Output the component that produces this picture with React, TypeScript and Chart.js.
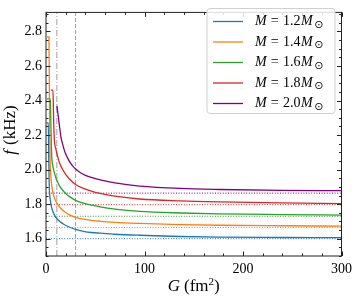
import React, { useEffect, useRef } from 'react';
import { Chart, registerables } from 'chart.js';
Chart.register(...registerables);

const massLabels = ['1.2', '1.4', '1.6', '1.8', '2.0'];
const colors = ['#1f77b4', '#ff7f0e', '#2ca02c', '#d62728', '#800080'];

const gM12 = [0.5, 2.3, 2.8, 3.3, 4, 5, 6, 7, 8.5, 10, 12, 15, 18, 22, 26, 30, 38, 46, 55, 70, 95, 136, 176, 240, 300];
const fM12 = [2.27, 2.27, 2.06, 1.9, 1.84, 1.8, 1.775, 1.757, 1.738, 1.724, 1.71, 1.696, 1.684, 1.672, 1.662, 1.654, 1.643, 1.636, 1.632, 1.626, 1.62, 1.613, 1.609, 1.607, 1.606];

const gM14 = [1, 3, 3.5, 4, 5, 6, 7, 8.5, 10, 12.5, 15, 18, 22, 26, 30, 38, 46, 55, 70, 95, 136, 176, 240, 300];
const fM14 = [2.768, 2.768, 2.4, 2.1, 1.96, 1.9, 1.866, 1.838, 1.817, 1.793, 1.776, 1.76, 1.743, 1.732, 1.724, 1.713, 1.706, 1.701, 1.695, 1.689, 1.682, 1.678, 1.675, 1.673];

const gM16 = [1, 4.4, 5, 5.7, 7, 8.4, 10, 11.8, 14, 16.8, 20, 23.6, 30, 38, 46, 55, 70, 95, 136, 176, 240, 300];
const fM16 = [2.41, 2.41, 2.25, 2.09, 2.02, 1.984, 1.953, 1.928, 1.903, 1.882, 1.862, 1.845, 1.822, 1.806, 1.795, 1.784, 1.771, 1.758, 1.749, 1.744, 1.74, 1.737];

const gM18 = [5, 7.1, 7.7, 8.4, 10, 11.8, 14, 16.8, 20, 23.6, 30, 38, 46, 55, 70, 95, 136, 176, 240, 300];
const fM18 = [2.46, 2.46, 2.3, 2.18, 2.12, 2.077, 2.035, 2.002, 1.972, 1.947, 1.914, 1.891, 1.876, 1.862, 1.846, 1.83, 1.819, 1.813, 1.807, 1.803];

const gM20 = [11, 12, 13.5, 15.2, 17, 18.5, 20, 23.6, 27, 30.4, 35, 40, 46, 55, 70, 95, 136, 176, 240, 300];
const fM20 = [2.37, 2.33, 2.26, 2.188, 2.145, 2.114, 2.09, 2.049, 2.022, 2.002, 1.982, 1.967, 1.955, 1.94, 1.923, 1.905, 1.891, 1.885, 1.88, 1.878];

const gSeries = [gM12, gM14, gM16, gM18, gM20];
const fSeries = [fM12, fM14, fM16, fM18, fM20];
const asymptotes = [1.6, 1.665, 1.73, 1.797, 1.864];

const dashDotG = 11;
const dashG = 30;
const xMin = 0, xMax = 300, yMin = 1.5, yMax = 2.91;
const xTicks = [0, 100, 200, 300];
const yTicks = [1.6, 1.8, 2.0, 2.2, 2.4, 2.6, 2.8];
const xMinorStep = 20;
const yMinorStep = 0.05;

const SERIF = '"Liberation Serif", "DejaVu Serif", serif';

function drawParts(ctx: CanvasRenderingContext2D, parts: { t: string; f: string; dy?: number; gap?: number }[], x: number, y: number) {
  let cx = x;
  for (const p of parts) {
    ctx.font = p.f;
    ctx.fillText(p.t, cx, y + (p.dy || 0));
    cx += ctx.measureText(p.t).width + (p.gap || 0);
  }
  return cx - x;
}
function partsWidth(ctx: CanvasRenderingContext2D, parts: { t: string; f: string; gap?: number }[]) {
  let w = 0;
  for (const p of parts) {
    ctx.font = p.f;
    w += ctx.measureText(p.t).width + (p.gap || 0);
  }
  return w;
}

const decorPlugin = {
  id: 'decor',
  afterDraw(chart: any) {
    const ctx: CanvasRenderingContext2D = chart.ctx;
    const { left, right, top, bottom } = chart.chartArea;
    const xs = chart.scales.x;
    const ys = chart.scales.y;
    ctx.save();
    ctx.strokeStyle = '#222';
    ctx.lineWidth = 1;
    ctx.strokeRect(left, top, right - left, bottom - top);
    ctx.beginPath();
    const maj = 4.5, mnr = 2.5;
    const nx = Math.round((xMax - xMin) / xMinorStep);
    for (let i = 0; i <= nx; i++) {
      const v = xMin + i * xMinorStep;
      const isMaj = xTicks.includes(v);
      const L = isMaj ? maj : mnr;
      const px = Math.round(xs.getPixelForValue(v)) + 0.5;
      ctx.moveTo(px, bottom); ctx.lineTo(px, bottom - L);
      ctx.moveTo(px, top); ctx.lineTo(px, top + L);
    }
    const ny = Math.round((2.9 - yMin) / yMinorStep);
    for (let i = 0; i <= ny; i++) {
      const v = +(yMin + i * yMinorStep).toFixed(2);
      const isMaj = yTicks.some((t) => Math.abs(t - v) < 1e-6);
      const L = isMaj ? maj : mnr;
      const py = Math.round(ys.getPixelForValue(v)) + 0.5;
      ctx.moveTo(left, py); ctx.lineTo(left + L, py);
      ctx.moveTo(right, py); ctx.lineTo(right - L, py);
    }
    ctx.stroke();

    ctx.fillStyle = '#000';
    ctx.textBaseline = 'middle';
    ctx.textAlign = 'left';
    const tf = '17px ' + SERIF;
    const tfi = 'italic 17px ' + SERIF;
    const xParts = [
      { t: 'G', f: tfi, gap: 4 },
      { t: '(fm', f: tf },
      { t: '2', f: '11px ' + SERIF, dy: -5 },
      { t: ')', f: tf },
    ];
    const xw = partsWidth(ctx, xParts);
    drawParts(ctx, xParts, (left + right) / 2 - xw / 2, 287);
    const yParts = [
      { t: 'f', f: tfi, gap: 5 },
      { t: '(kHz)', f: tf },
    ];
    const yw = partsWidth(ctx, yParts);
    ctx.save();
    ctx.translate(11, 130);
    ctx.rotate(-Math.PI / 2);
    drawParts(ctx, yParts, -yw / 2, 0);
    ctx.restore();

    const bx = 207, by = 8.5, bw = 128, bh = 105;
    ctx.beginPath();
    const r = 3;
    ctx.moveTo(bx + r, by);
    ctx.arcTo(bx + bw, by, bx + bw, by + bh, r);
    ctx.arcTo(bx + bw, by + bh, bx, by + bh, r);
    ctx.arcTo(bx, by + bh, bx, by, r);
    ctx.arcTo(bx, by, bx + bw, by, r);
    ctx.closePath();
    ctx.fillStyle = 'rgba(255,255,255,0.85)';
    ctx.fill();
    ctx.strokeStyle = '#d0d0d0';
    ctx.lineWidth = 1;
    ctx.stroke();
    const lf = '14px ' + SERIF;
    const lfi = 'italic 14px ' + SERIF;
    massLabels.forEach((m, i) => {
      const ry = 21.5 + i * 20.5;
      ctx.strokeStyle = colors[i];
      ctx.lineWidth = 1.3;
      ctx.beginPath();
      ctx.moveTo(213, ry);
      ctx.lineTo(243, ry);
      ctx.stroke();
      ctx.fillStyle = '#000';
      drawParts(ctx, [
        { t: 'M', f: lfi, gap: 4 },
        { t: '=', f: lf, gap: 4.5 },
        { t: m, f: lf, gap: 0.5 },
        { t: 'M', f: lfi, gap: 1.5 },
        { t: '\u2299', f: '11px "DejaVu Sans", sans-serif', dy: 3.5 },
      ], 255, ry);
    });
    ctx.restore();
  },
};

export default function App() {
  const ref = useRef<HTMLCanvasElement>(null);
  useEffect(() => {
    if (!ref.current) return;
    const datasets: any[] = [];
    gSeries.forEach((g, i) => {
      datasets.push({
        label: 'M = ' + massLabels[i] + 'M\u2299',
        data: g.map((x, k) => ({ x, y: fSeries[i][k] })),
        borderColor: colors[i],
        borderWidth: 1.3,
        pointRadius: 0,
        cubicInterpolationMode: 'monotone',
        order: 0,
      });
    });
    asymptotes.forEach((a, i) => {
      datasets.push({
        data: [{ x: xMin, y: a }, { x: xMax, y: a }],
        borderColor: colors[i],
        borderWidth: 1,
        borderDash: [1, 1.6],
        pointRadius: 0,
        order: 1,
      });
    });
    datasets.push({
      data: [{ x: dashDotG, y: yMin }, { x: dashDotG, y: yMax }],
      borderColor: 'rgba(128,128,128,0.75)',
      borderWidth: 1,
      borderDash: [6, 2, 1, 2],
      pointRadius: 0,
      order: 2,
    });
    datasets.push({
      data: [{ x: dashG, y: yMin }, { x: dashG, y: yMax }],
      borderColor: 'rgba(128,128,128,0.75)',
      borderWidth: 1,
      borderDash: [4, 2],
      pointRadius: 0,
      order: 2,
    });

    const chart = new Chart(ref.current, {
      type: 'line',
      data: { datasets },
      options: {
        animation: false,
        responsive: false,
        devicePixelRatio: 1,
        layout: { padding: { left: 0, right: 15, top: 3, bottom: 0 } },
        plugins: { legend: { display: false }, tooltip: { enabled: false } },
        scales: {
          x: {
            type: 'linear',
            min: xMin,
            max: xMax,
            grid: { display: false, drawTicks: false },
            border: { display: false },
            afterBuildTicks: (s: any) => { s.ticks = xTicks.map((v) => ({ value: v })); },
            afterFit: (s: any) => { s.height = 43; },
            ticks: {
              padding: 5,
              color: '#000',
              font: { family: SERIF, size: 14 },
              maxRotation: 0,
              autoSkip: false,
              callback: (v: any) => String(v),
            },
          },
          y: {
            type: 'linear',
            min: yMin,
            max: yMax,
            grid: { display: false, drawTicks: false },
            border: { display: false },
            afterBuildTicks: (s: any) => { s.ticks = yTicks.map((v) => ({ value: v })); },
            afterFit: (s: any) => { s.width = 46; },
            ticks: {
              padding: 4,
              color: '#000',
              font: { family: SERIF, size: 14 },
              autoSkip: false,
              callback: (v: any) => Number(v).toFixed(1),
            },
          },
        },
      },
      plugins: [decorPlugin],
    });
    return () => chart.destroy();
  }, []);
  return (
    <div style={{ position: 'fixed', left: 0, top: 0, width: 357, height: 299, background: '#fff' }}>
      <canvas ref={ref} width={357} height={299} style={{ display: 'block', width: 357, height: 299 }} />
    </div>
  );
}
